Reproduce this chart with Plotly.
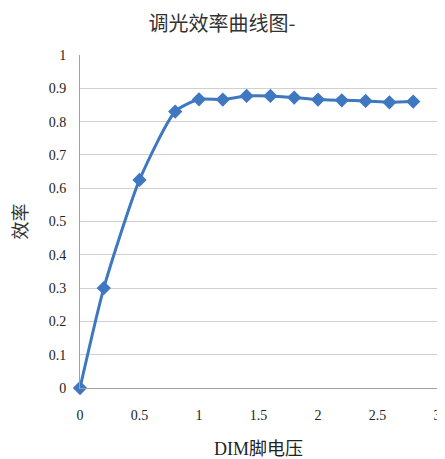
import plotly.graph_objects as go

voltage = [0, 0.2, 0.5, 0.8, 1.0, 1.2, 1.4, 1.6, 1.8, 2.0, 2.2, 2.4, 2.6, 2.8]
efficiency = [0, 0.30, 0.625, 0.83, 0.867, 0.866, 0.877, 0.877, 0.872, 0.866, 0.864, 0.862, 0.858, 0.860]

x_ticks = [0, 0.5, 1, 1.5, 2, 2.5, 3]
x_tick_labels = ["0", "0.5", "1", "1.5", "2", "2.5", "3"]
y_ticks = [0, 0.1, 0.2, 0.3, 0.4, 0.5, 0.6, 0.7, 0.8, 0.9, 1]
y_tick_labels = ["0", "0.1", "0.2", "0.3", "0.4", "0.5", "0.6", "0.7", "0.8", "0.9", "1"]

title_text = "调光效率曲线图-"
x_title = "DIM脚电压"
y_title = "效率"

blue = "#3F77C0"

fig = go.Figure()
fig.add_trace(go.Scatter(
    x=voltage, y=efficiency, mode="lines+markers",
    line=dict(color=blue, width=3, shape="spline", smoothing=0.6),
    marker=dict(symbol="diamond", size=11, color=blue),
    showlegend=False, cliponaxis=False,
))

serif = "Liberation Serif, Times New Roman, serif"
cjk = "Liberation Serif, Noto Sans CJK SC, serif"
W, H = 445, 459
fig.update_layout(
    width=W, height=H,
    margin=dict(l=72, r=16, t=47, b=79, autoexpand=False),
    paper_bgcolor="white", plot_bgcolor="white",
    title=dict(text=title_text, x=214 / W, xanchor="center", xref="container",
               y=1 - 15.5 / H, yanchor="middle", yref="container",
               font=dict(family="Noto Sans CJK SC", size=20, color="#333333")),
    xaxis=dict(range=[0, 3], tickvals=x_ticks, ticktext=x_tick_labels,
               showgrid=False, showline=True, linecolor="#A0A0A0", linewidth=1,
               zeroline=False, ticks="", ticklabelstandoff=14, automargin=False,
               tickfont=dict(family=serif, size=14, color="#222222"),
               title=dict(text=x_title, standoff=20,
                          font=dict(family=cjk, size=18, color="#222222"))),
    yaxis=dict(range=[0, 1], tickvals=y_ticks, ticktext=y_tick_labels,
               showgrid=True, gridcolor="#D0D0D0", gridwidth=1,
               showline=True, linecolor="#A0A0A0", linewidth=1,
               zeroline=False, ticks="", ticklabelstandoff=10, automargin=False,
               tickfont=dict(family=serif, size=14, color="#222222"),
               title=dict(text=y_title, standoff=16,
                          font=dict(family=cjk, size=18, color="#333333"))),
)

fig.write_html("out.html")
